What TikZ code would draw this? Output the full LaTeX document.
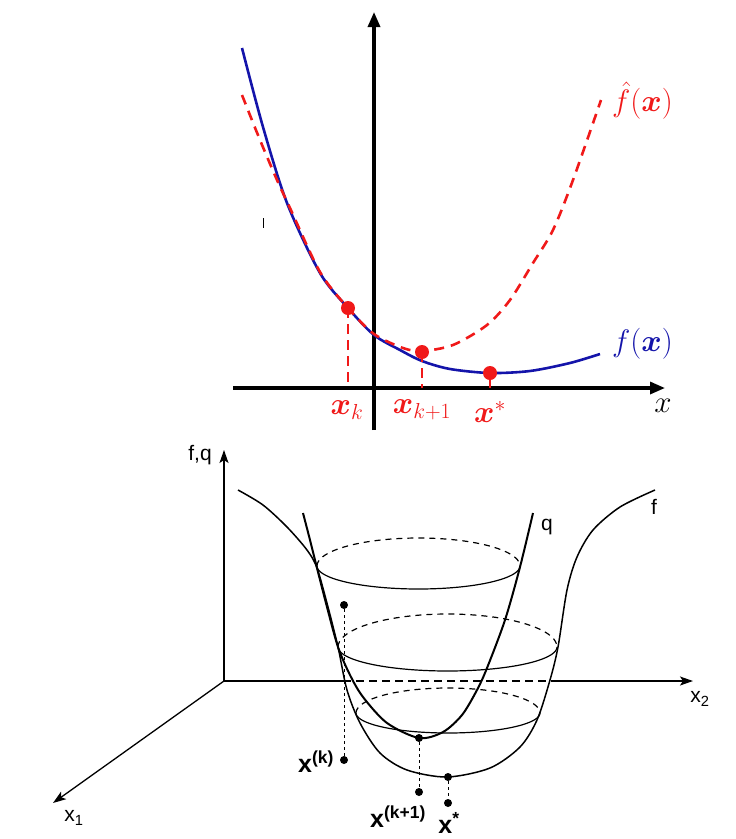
\RequirePackage{fix-cm}
\documentclass[tikz,border=0pt]{standalone}
\usepackage{amsmath}
\usepackage{bm}
\usepackage{fontspec}
\newfontfamily\helv{Liberation Sans}
\usetikzlibrary{arrows.meta}
\definecolor{fred}{RGB}{240,25,25}
\definecolor{fblue}{RGB}{20,20,170}
\tikzset{
  bigaxis/.style={line width=3.2pt,-{Triangle[length=15pt,width=12pt]}},
  fcurve/.style={fblue,line width=2.6pt},
  fhat/.style={fred,line width=2.6pt,dash pattern=on 10pt off 7pt},
  reddot/.style={circle,fill=fred,inner sep=0pt,minimum size=14pt},
  redlbl/.style={fred,font=\fontsize{31}{34}\selectfont},
  thinaxis/.style={line width=1.3pt,-{Stealth[length=13pt,width=9pt,inset=3pt]}},
  surf/.style={line width=1.5pt},
  qcurve/.style={line width=2pt},
  lev/.style={line width=1.2pt},
  levback/.style={line width=1.2pt,dash pattern=on 6pt off 5pt},
  drop/.style={line width=1pt,dash pattern=on 3pt off 3pt},
  bdot/.style={circle,fill=black,inner sep=0pt,minimum size=8pt},
  blbl/.style={font=\helv\bfseries\fontsize{25}{28}\selectfont},
  slbl/.style={font=\helv\fontsize{21}{24}\selectfont}
}
\begin{document}
\begin{tikzpicture}[x=1pt,y=-1pt]
\useasboundingbox (0,0) rectangle (736,839);
% ---------------- top diagram ----------------
\coordinate (xl) at (233,388); \coordinate (xr) at (665,388);
\coordinate (yb) at (374,430); \coordinate (yt) at (374,12);
\draw[bigaxis] (xl) -- (xr);
\draw[bigaxis] (yb) -- (yt);
\draw[line width=1pt] (263,218) -- (263,228);
\draw[fcurve] plot[smooth] coordinates {(242,48) (263,127) (287,203) (320,273) (348,308) (374,335) (400,350) (422,361) (450,369) (490,373) (530,371) (570,363) (600,354)};
\draw[fhat] plot[smooth] coordinates {(242,95) (260,140) (277,180) (290,208) (320,272) (348,308) (374,334) (403,348) (422,351) (453,345) (487,325) (510,300) (533,263) (553,230) (573,180) (601,100)};
\node[reddot] (pk) at (348,308) {};
\node[reddot] (pk1) at (422,352) {};
\node[reddot] (ps) at (490,373) {};
\coordinate (bk) at (348,388); \coordinate (bk1) at (422,388); \coordinate (bs) at (490,388);
\draw[fred,line width=2.6pt,dash pattern=on 10pt off 6pt] (pk.center) -- (bk);
\draw[fred,line width=2.6pt,dash pattern=on 10pt off 6pt] (pk1.center) -- (bk1);
\draw[fred,line width=2.6pt] (ps.center) -- (bs);
\node[redlbl] (lk) at (347,410) {$\bm{x}_k$};
\node[redlbl] (lk1) at (422,410) {$\bm{x}_{k+1}$};
\node[redlbl] (ls) at (490,412) {$\bm{x}^*$};
\node[font=\fontsize{31}{34}\selectfont] (lx) at (663,406) {$x$};
\node[redlbl,anchor=west,inner sep=0pt] (lfh) at (612,101) {$\hat f(\bm{x})$};
\node[fblue,font=\fontsize{31}{34}\selectfont,anchor=west,inner sep=0pt] (lf) at (612,344) {$f(\bm{x})$};
% ---------------- bottom diagram ----------------
\coordinate (o) at (224,681);
\coordinate (zt) at (224,450);
\coordinate (x1t) at (53,803);
\coordinate (x2t) at (693,681);
\coordinate (da) at (343,681); \coordinate (db) at (553,681);
\draw[thinaxis] (o) -- (zt);
\draw[thinaxis] (o) -- (x1t);
\draw[line width=1.3pt] (o) -- (da);
\draw[line width=1.3pt,dash pattern=on 8pt off 5pt] (da) -- (db);
\draw[thinaxis] (db) -- (x2t);
\node[slbl] (lfq) at (200,455) {f,q};
\node[slbl] (lx1) at (74,818) {x$_{\text{1}}$};
\node[slbl] (lx2) at (700,699) {x$_{\text{2}}$};
% f surface profile
\draw[surf] plot[smooth] coordinates {(238,490) (263,505) (287,527) (307,550) (317,568) (328,607) (338,647) (347,690) (360,723) (380,753) (407,770) (447,777) (490,768) (520,747) (537,720) (550,680) (558,647) (567,590) (577,557) (593,530) (620,507) (655,490)};
\node[slbl] (lff) at (654,507) {f};
% q profile
\draw[qcurve] plot[smooth] coordinates {(303,513) (310,540) (317,568) (327,607) (338,647) (350,675) (363,697) (387,723) (419,738) (443,732) (462,715) (477,690) (487,668) (505,620) (520,567) (533,513)};
\node[slbl] (lq) at (547,527) {q};
% level sets
\draw[lev] plot[smooth,domain=0:180,samples=40] ({418.5+101.5*cos(\x)},{566+23*sin(\x)});
\draw[levback] plot[smooth,domain=180:360,samples=40] ({418.5+101.5*cos(\x)},{566+28*sin(\x)});
\draw[lev] plot[smooth,domain=0:180,samples=40] ({447.5+109.5*cos(\x)},{647+24*sin(\x)});
\draw[levback] plot[smooth,domain=180:360,samples=40] ({447.5+109.5*cos(\x)},{647+33*sin(\x)});
\draw[lev] plot[smooth,domain=0:180,samples=40] ({448+92*cos(\x)},{713+20*sin(\x)});
\draw[levback] plot[smooth,domain=180:360,samples=40] ({448+92*cos(\x)},{713+25*sin(\x)});
% points
\node[bdot] (ak) at (344,605) {};
\node[bdot] (bkk) at (344,760) {};
\node[bdot] (ak1) at (419,738) {};
\node[bdot] (bkk1) at (419,792) {};
\node[bdot] (as) at (448,777) {};
\node[bdot] (bss) at (448,803) {};
\draw[drop] (ak) -- (bkk);
\draw[drop] (ak1) -- (bkk1);
\draw[drop] (as) -- (bss);
\node[blbl] (tk) at (316,762) {x\textsuperscript{(k)}};
\node[blbl] (tk1) at (398,817) {x\textsuperscript{(k+1)}};
\node[blbl] (ts) at (449,823) {x\textsuperscript{*}};
\end{tikzpicture}
\end{document}
